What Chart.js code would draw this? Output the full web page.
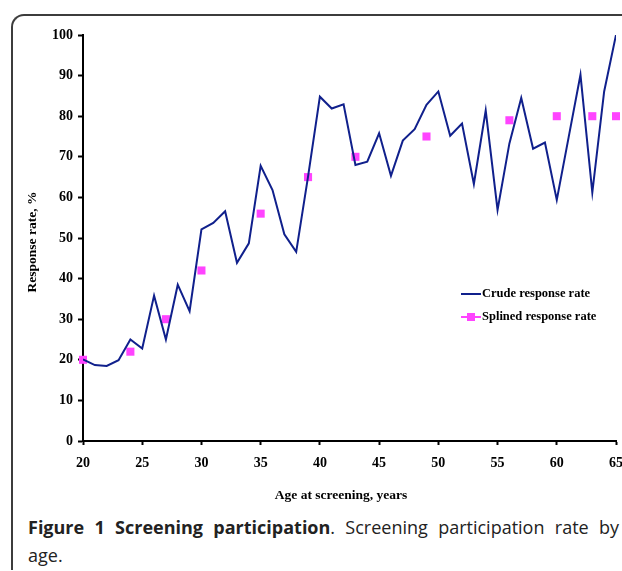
<!DOCTYPE html>
<html>
<head>
<meta charset="utf-8">
<title>Screening participation</title>
<script src="https://cdn.jsdelivr.net/npm/chart.js@4.4.1/dist/chart.umd.min.js"></script>
<style>
    html, body {
        margin: 0;
        padding: 0;
        background: #fff;
        width: 622px;
        height: 571px;
        overflow: hidden;
    }
    .frame {
        position: absolute;
        left: 11px;
        top: 14px;
        width: 700px;
        height: 554px;
        border-left: 2px solid #3c3c3c;
        border-top: 2px solid #3c3c3c;
        border-top-left-radius: 13px;
    }
    .chart-box {
        position: absolute;
        left: 0;
        top: 0;
        width: 622px;
        height: 510px;
    }
    .caption {
        position: absolute;
        left: 28px;
        top: 513px;
        width: 591px;
        font-family: "Open Sans", sans-serif;
        font-size: 18px;
        line-height: 28px;
        color: #222;
    }
    .caption .first {
        text-align: justify;
        text-align-last: justify;
    }
</style>
</head>
<body>
<div class="frame"></div>
<div class="chart-box"><canvas id="participationChart"></canvas></div>
<div class="caption">
    <div class="first"><b>Figure 1 Screening participation</b>. Screening participation rate by</div>
    <div>age.</div>
</div>

<script>
// Idade no rastreio (anos) e taxa bruta de resposta (%)
const ages = [20, 21, 22, 23, 24, 25, 26, 27, 28, 29,
              30, 31, 32, 33, 34, 35, 36, 37, 38, 39,
              40, 41, 42, 43, 44, 45, 46, 47, 48, 49,
              50, 51, 52, 53, 54, 55, 56, 57, 58, 59,
              60, 61, 62, 63, 64, 65];
const crudeRate = [20.1, 18.7, 18.5, 19.9, 25.0, 22.8, 35.8, 25.0, 38.5, 32.0,
                   52.1, 53.7, 56.6, 43.9, 48.7, 67.8, 61.8, 50.9, 46.6, 65.1,
                   84.8, 81.9, 82.9, 68.0, 68.8, 75.8, 65.3, 74.0, 76.8, 82.8,
                   86.1, 75.2, 78.2, 63.3, 81.4, 56.9, 73.3, 84.5, 72.0, 73.5,
                   59.4, 74.8, 90.2, 61.2, 86.1, 100.0];

// Taxa suavizada (spline), só em algumas idades
const splineAges = [20, 24, 27, 30, 35, 39, 43, 49, 56, 60, 63, 65];
const splineRate = [20, 22, 30, 42, 56, 65, 70, 75, 79, 80, 80, 80];

const xTicks = [20, 25, 30, 35, 40, 45, 50, 55, 60, 65];
const yTicks = [0, 10, 20, 30, 40, 50, 60, 70, 80, 90, 100];

const serifFamily = '"Liberation Serif", "Times New Roman", serif';

/**
 * Legenda e títulos dos eixos desenhados à mão dentro do canvas
 */
const insideLegend = {
    id: 'insideLegend',
    afterDraw(chart) {
        const ctx = chart.ctx;
        const x0 = 461, x1 = 481;
        const rows = [294, 317];
        ctx.save();
        ctx.font = 'bold 12.5px ' + serifFamily;
        ctx.textBaseline = 'middle';
        chart.data.datasets.forEach((ds, i) => {
            const y = rows[i];
            ctx.strokeStyle = ds.borderColor;
            ctx.lineWidth = 2;
            ctx.beginPath();
            ctx.moveTo(x0, y);
            ctx.lineTo(x1, y);
            ctx.stroke();
            if (ds.showLine === false) {
                ctx.fillStyle = ds.backgroundColor;
                ctx.fillRect((x0 + x1) / 2 - 4, y - 4, 8, 8);
            }
            ctx.fillStyle = '#000';
            ctx.fillText(ds.label, x1 + 1, y);
        });

        // títulos dos eixos, na mesma posição do original
        ctx.font = 'bold 13.5px ' + serifFamily;
        ctx.textAlign = 'center';
        ctx.fillText('Age at screening, years', 341, 496);

        ctx.translate(33, 242);
        ctx.rotate(-Math.PI / 2);
        ctx.fillText('Response rate, %', 0, 0);
        ctx.restore();
    }
};

function initializeParticipationChart() {
    const chartCanvas = document.getElementById('participationChart');
    if (!chartCanvas) return;

    new Chart(chartCanvas, {
        type: 'line',
        data: {
            datasets: [{
                label: 'Crude response rate',
                data: ages.map((a, i) => ({ x: a, y: crudeRate[i] })),
                borderColor: '#10208c',
                backgroundColor: '#10208c',
                borderWidth: 2,
                pointRadius: 0,
                tension: 0,
                fill: false
            }, {
                label: 'Splined response rate',
                data: splineAges.map((a, i) => ({ x: a, y: splineRate[i] })),
                showLine: false,
                borderColor: '#ff44ff',
                backgroundColor: '#ff44ff',
                pointStyle: 'rect',
                pointRadius: 5.7,
                pointBorderWidth: 0,
                clip: false
            }]
        },
        options: {
            responsive: true,
            maintainAspectRatio: false,
            animation: false,
            layout: {
                padding: { left: 0, right: 6, top: 35, bottom: 0 }
            },
            scales: {
                x: {
                    type: 'linear',
                    min: 20,
                    max: 65,
                    afterBuildTicks: function (scale) {
                        scale.ticks = xTicks.map(v => ({ value: v }));
                    },
                    afterFit: function (scale) {
                        scale.height = 69;
                        scale.paddingLeft = 0;
                        scale.paddingRight = 0;
                    },
                    ticks: {
                        color: '#000',
                        font: { family: serifFamily, weight: 'bold', size: 14 },
                        padding: 10,
                        maxRotation: 0,
                        autoSkip: false
                    },
                    grid: {
                        drawOnChartArea: false,
                        drawTicks: true,
                        tickLength: 4,
                        tickWidth: 2,
                        tickColor: '#000'
                    },
                    border: { color: '#000', width: 2 }
                },
                y: {
                    min: 0,
                    max: 100,
                    afterBuildTicks: function (scale) {
                        scale.ticks = yTicks.map(v => ({ value: v }));
                    },
                    afterFit: function (scale) {
                        scale.width = 83;
                        scale.paddingTop = 0;
                        scale.paddingBottom = 0;
                    },
                    ticks: {
                        color: '#000',
                        font: { family: serifFamily, weight: 'bold', size: 14 },
                        padding: 5
                    },
                    grid: {
                        drawOnChartArea: false,
                        drawTicks: true,
                        tickLength: 5,
                        tickWidth: 2,
                        tickColor: '#000'
                    },
                    border: { color: '#000', width: 2 }
                }
            },
            plugins: {
                legend: { display: false },
                tooltip: { enabled: false }
            }
        },
        plugins: [insideLegend]
    });
}

document.addEventListener('DOMContentLoaded', initializeParticipationChart);
</script>
</body>
</html>
